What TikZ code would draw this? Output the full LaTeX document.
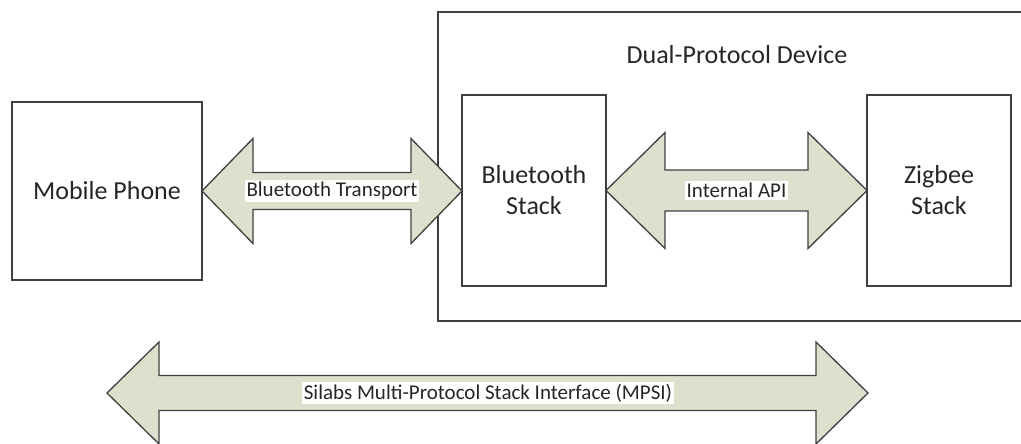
\documentclass[tikz,border=0pt]{standalone}
\usepackage{fontspec}
\setmainfont{Carlito}
\usetikzlibrary{calc}

\definecolor{edge}{RGB}{64,64,64}
\definecolor{olivefill}{RGB}{221,224,204}
\definecolor{ink}{RGB}{38,38,38}

\tikzset{
  block/.style={draw=edge, line width=1.5pt, fill=white, inner sep=0pt, outer sep=0pt,
    text=ink, align=center, font=\fontsize{26}{31}\selectfont},
  fatarrow/.style={draw=edge, line width=1.3pt, fill=olivefill, line join=miter},
  tag/.style={fill=white, inner xsep=1.5pt, inner ysep=2pt, text=ink,
    font=\fontsize{21}{24}\selectfont},
  heading/.style={text=ink, font=\fontsize{26}{31}\selectfont}
}

% double-headed block arrow between two points on one horizontal line
% #1 left tip, #2 right tip, #3 shaft half height, #4 head half height, #5 head length
\newcommand\wideArrow[5]{%
  \draw[fatarrow] (#1) -- ($(#1)+(#5,-#4)$) -- ($(#1)+(#5,-#3)$)
    -- ($(#2)+(-#5,-#3)$) -- ($(#2)+(-#5,-#4)$) -- (#2)
    -- ($(#2)+(-#5,#4)$) -- ($(#2)+(-#5,#3)$)
    -- ($(#1)+(#5,#3)$) -- ($(#1)+(#5,#4)$) -- cycle;}

\begin{document}
\begin{tikzpicture}[x=1pt,y=-1pt]
  \useasboundingbox (0,0) rectangle (1021,444);
  \clip (0,0) rectangle (1021,444);

  % enclosing device frame (runs past the right margin)
  \node[block, minimum width=594pt, minimum height=309pt] (device) at (735,166.5) {};
  \node[heading] (devtitle) at (737,55) {Dual-Protocol Device};

  % blocks
  \node[block, minimum width=190pt, minimum height=178pt] (phone) at (107,191) {Mobile Phone};
  \node[block, minimum width=144pt, minimum height=191pt] (bt) at (534,190.5) {Bluetooth\\Stack};
  \node[block, minimum width=144pt, minimum height=191pt] (zb) at (939,190.5) {Zigbee\\Stack};

  % links between blocks
  \coordinate (btin) at (bt.west |- phone.east);
  \wideArrow{phone.east}{btin}{18.5}{52.5}{51}
  \node[tag] (tlabel) at ($(phone.east)!0.5!(btin)$) {Bluetooth Transport};

  \wideArrow{bt.east}{zb.west}{20.5}{58}{59}
  \node[tag] (apilabel) at ($(bt.east)!0.5!(zb.west)$) {Internal API};

  % interface spanning both sides
  \coordinate (mpsiL) at (107,393);
  \coordinate (mpsiR) at (868,393);
  \wideArrow{mpsiL}{mpsiR}{17.5}{51}{52}
  \node[tag] (mpsilabel) at (488,393) {Silabs Multi-Protocol Stack Interface (MPSI)};
\end{tikzpicture}
\end{document}
